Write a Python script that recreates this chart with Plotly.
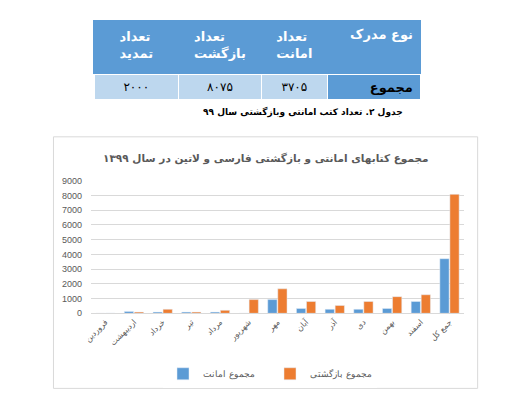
import plotly.graph_objects as go

# ---- data ----
months = ["فروردین", "اردیبهشت", "خرداد", "تیر", "مرداد", "شهریور", "مهر",
          "آبان", "آذر", "دی", "بهمن", "اسفند", "جمع کل"]
amanat = [0, 130, 80, 80, 80, 0, 930, 330, 270, 270, 330, 800, 3705]
bazgashti = [10, 80, 270, 80, 200, 930, 1660, 800, 530, 800, 1130, 1260, 8075]
series_names = ["مجموع امانت", "مجموع بازگشتی"]

table_headers = ["تعداد<br>تمدید", "تعداد<br>بازگشت", "تعداد<br>امانت", "نوع مدرک"]
table_values = ["۲۰۰۰", "۸۰۷۵", "۳۷۰۵", "مجموع"]

chart_title = "مجموع کتابهای امانتی و بازگشتی فارسی و لاتین در سال ۱۳۹۹"
caption = "جدول ۲. تعداد کتب امانتی وبازگشتی سال ۹۹"

W, H = 517, 400
BLUE = "#5B9BD5"
LIGHT = "#BDD7EE"
ORANGE = "#ED7D31"
GRAY = "#595959"

def px(x):
    return x / W

def py(y):
    return 1 - y / H

fig = go.Figure()

fig.add_trace(go.Table(
    domain=dict(x=[px(80), px(412)], y=[py(200), py(8)]),
    columnwidth=[86, 84, 67, 95],
    header=dict(
        values=[[h] for h in table_headers],
        fill_color=BLUE,
        line_color=BLUE,
        line_width=1,
        align=["center", "center", "center", "right"],
        font=dict(family="DejaVu Sans", size=13, color="white", weight="bold"),
        height=53,
    ),
    cells=dict(
        values=[[v] for v in table_values],
        fill_color=[LIGHT, LIGHT, LIGHT, BLUE],
        line_color="white",
        line_width=1.5,
        align=["center", "center", "center", "right"],
        font=dict(family="DejaVu Sans", size=[12, 12, 12, 13], color="black",
                  weight=["normal", "normal", "normal", "bold"]),
        height=26,
    ),
))

fig.add_trace(go.Bar(x=months, y=amanat, name=series_names[0], marker_color=BLUE))
fig.add_trace(go.Bar(x=months, y=bazgashti, name=series_names[1], marker_color=ORANGE))

fig.update_layout(
    width=W, height=H,
    margin=dict(l=0, r=0, t=0, b=0),
    paper_bgcolor="white", plot_bgcolor="white",
    barmode="group", bargap=0.3, bargroupgap=0.08,
    font=dict(family="Liberation Sans", color=GRAY),
    showlegend=True,
    legend=dict(orientation="h", x=0.5, xanchor="center", y=py(370), yanchor="middle",
                font=dict(size=9, color=GRAY), itemwidth=30, traceorder="normal",
                entrywidth=62, entrywidthmode="pixels"),
    xaxis=dict(domain=[px(77), px(455)], tickangle=-45, showgrid=False,
               showline=True, linecolor="#D9D9D9", linewidth=1,
               tickfont=dict(size=8, color=GRAY, family="DejaVu Sans"), ticks=""),
    yaxis=dict(domain=[py(308), py(172)], range=[0, 9000], dtick=1000,
               showgrid=True, gridcolor="#D9D9D9", gridwidth=1, zeroline=False,
               tickfont=dict(size=9, color=GRAY), ticks="", ticklabelstandoff=8),
    shapes=[dict(type="rect", xref="paper", yref="paper",
                 x0=px(39), x1=px(469), y0=py(385), y1=py(127),
                 line=dict(color="#D9D9D9", width=1))],
    annotations=[
        dict(text="<b>" + chart_title + "</b>", xref="paper", yref="paper",
             x=px(254), y=py(149), showarrow=False, xanchor="center", yanchor="middle",
             font=dict(size=10.5, color=GRAY, family="DejaVu Sans")),
        dict(text="<b>" + caption + "</b>", xref="paper", yref="paper",
             x=px(292), y=py(102), showarrow=False, xanchor="center", yanchor="middle",
             font=dict(size=9, color="black", family="DejaVu Sans")),
    ],
)

fig.write_html("out.html")
